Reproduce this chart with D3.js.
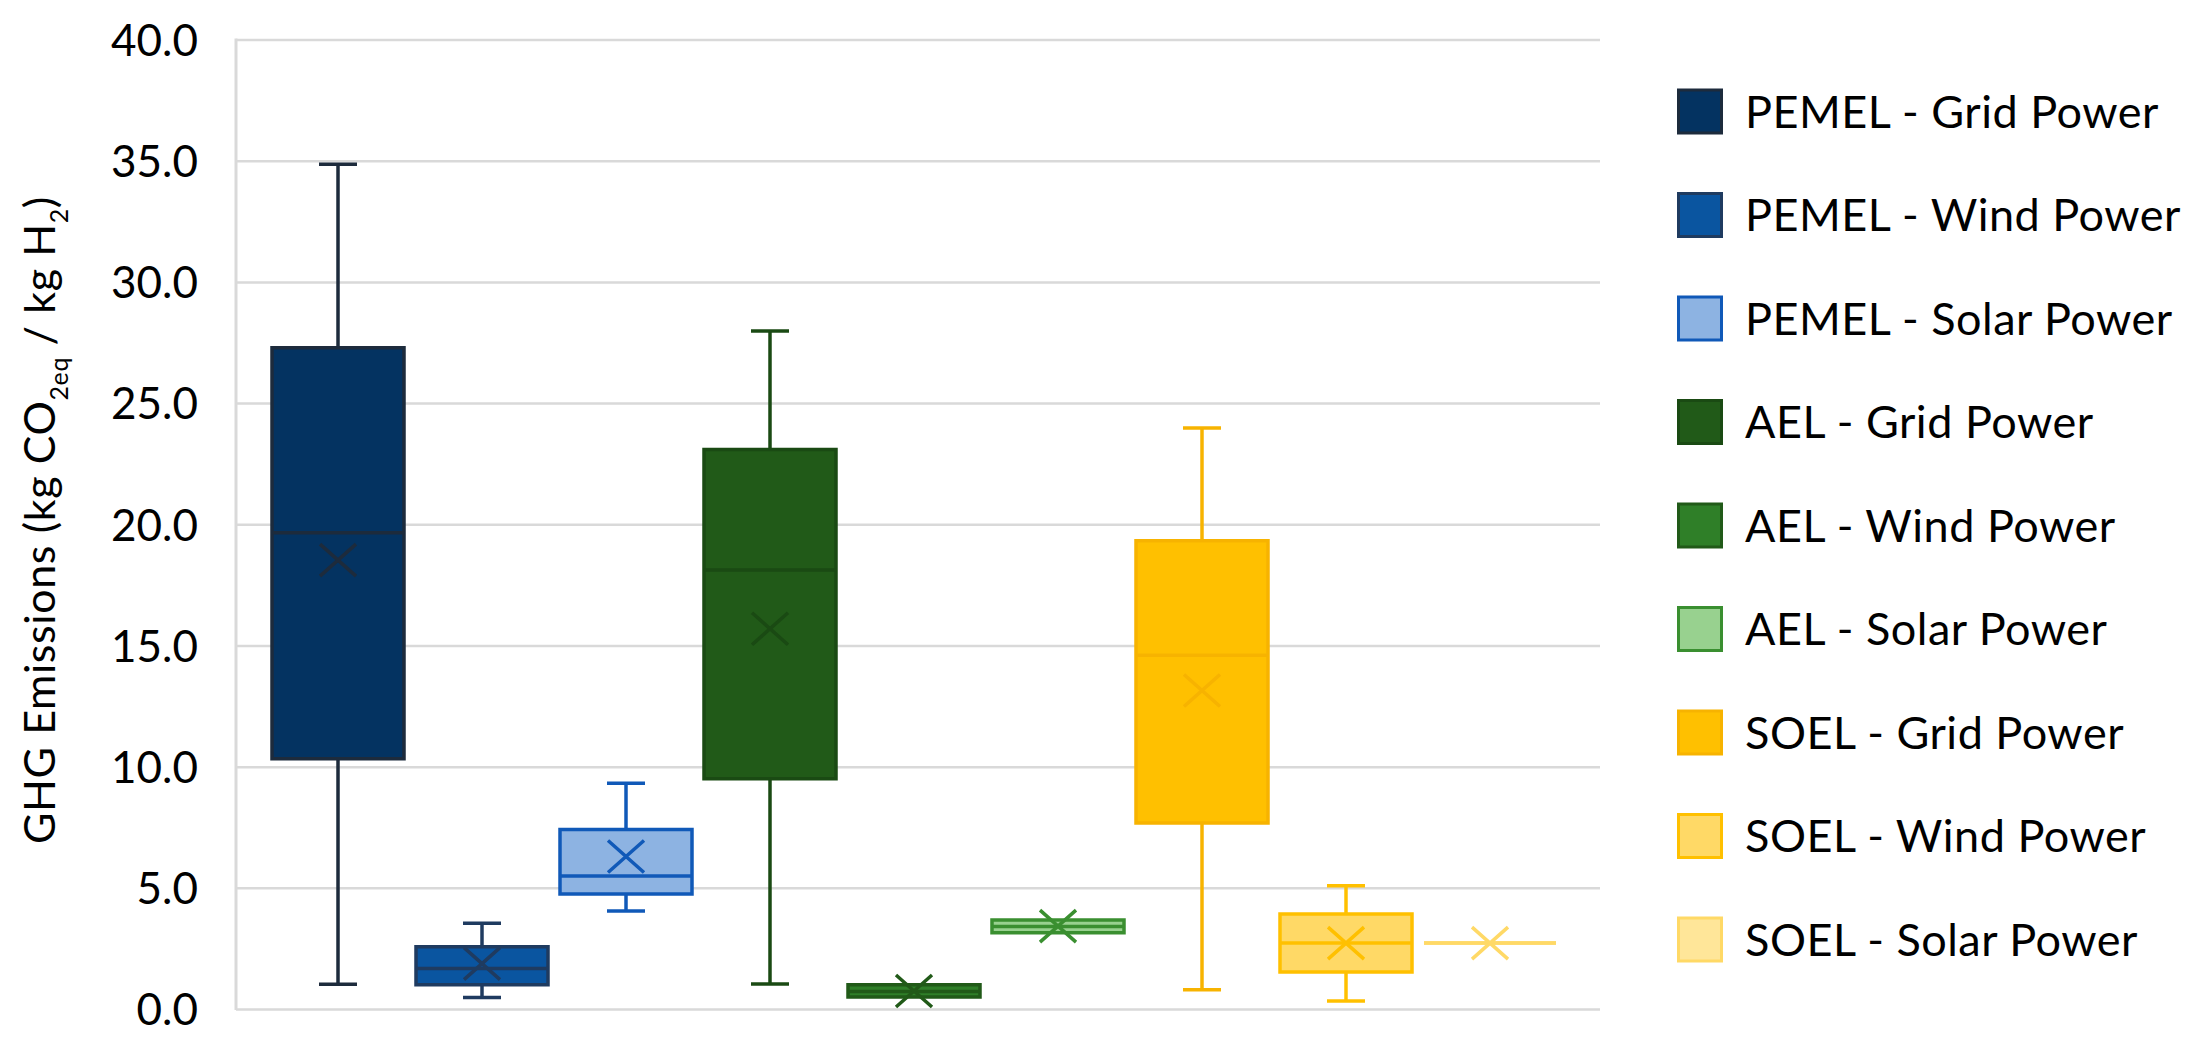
<!DOCTYPE html>
<html>
<head>
<meta charset="utf-8">
<script src="https://cdn.jsdelivr.net/npm/d3@7"></script>
<style>
  html, body { margin: 0; padding: 0; background: #ffffff; }
  svg { display: block; }
  text { font-family: Lato, "Open Sans", sans-serif; fill: #000; }
</style>
</head>
<body>
<svg id="chart" width="2187" height="1059"></svg>
<script>
// ---- data ----
const series = [
  "PEMEL - Grid Power", "PEMEL - Wind Power", "PEMEL - Solar Power",
  "AEL - Grid Power", "AEL - Wind Power", "AEL - Solar Power",
  "SOEL - Grid Power", "SOEL - Wind Power", "SOEL - Solar Power"
];
const minVals    = [1.02, 0.47, 4.04, 1.03, 0.50, 3.15, 0.79, 0.33, 2.72];
const q1Vals     = [10.33, 1.00, 4.74, 9.50, 0.50, 3.15, 7.67, 1.53, 2.72];
const medianVals = [19.65, 1.67, 5.49, 18.11, 0.72, 3.40, 14.60, 2.72, 2.72];
const q3Vals     = [27.28, 2.57, 7.41, 23.08, 1.00, 3.67, 19.32, 3.92, 2.72];
const maxVals    = [34.85, 3.54, 9.31, 27.97, 1.00, 3.67, 23.97, 5.09, 2.72];
const meanVals   = [18.52, 1.87, 6.29, 15.69, 0.74, 3.42, 13.14, 2.72, 2.72];
const yTicks = [0, 5, 10, 15, 20, 25, 30, 35, 40];

// ---- styles ----
const fillColors   = ["#043361", "#0A55A0", "#8DB3E2", "#215A18", "#2F7F28", "#98D18F", "#FFC000", "#FFD966", "#FFE699"];
const strokeColors = ["#1D2B3C", "#1F3B60", "#1059B8", "#1A4A13", "#215A18", "#3A8F30", "#F7B300", "#FFC000", "#FFD966"];

const svg = d3.select("#chart");
const plot = { left: 236, right: 1600, top: 39.5, bottom: 1009 };

const y = d3.scaleLinear().domain([0, 40]).range([plot.bottom, plot.top]);
const x = d3.scaleBand().domain(series).range([272, 1556]).paddingInner(0.0833).paddingOuter(0);

// gridlines
const grid = svg.append("g").attr("transform", `translate(${plot.left},0)`)
  .call(d3.axisLeft(y).tickValues(yTicks).tickSize(-(plot.right - plot.left)).tickFormat(""));
grid.select(".domain").remove();
grid.selectAll("line").attr("stroke", "#D9D9D9").attr("stroke-width", 2.5);

// left axis line
svg.append("line")
  .attr("x1", plot.left).attr("x2", plot.left)
  .attr("y1", plot.top - 1).attr("y2", plot.bottom + 1)
  .attr("stroke", "#D9D9D9").attr("stroke-width", 3);

// tick labels
const axis = svg.append("g").attr("transform", "translate(198,0)")
  .call(d3.axisLeft(y).tickValues(yTicks).tickSize(0).tickPadding(0).tickFormat(d3.format(".1f")));
axis.select(".domain").remove();
axis.selectAll("text")
  .style("font-family", "Lato, sans-serif")
  .style("font-size", "44px")
  .attr("fill", "#000")
  .attr("dy", "0.36em");

// y-axis title
const title = svg.append("text")
  .attr("transform", "translate(55,520) rotate(-90)")
  .attr("text-anchor", "middle")
  .style("font-size", "43px")
  .style("letter-spacing", "0.6px");
title.append("tspan").text("GHG Emissions (kg CO");
title.append("tspan").text("2eq").style("font-size", "25px").attr("dy", 13);
title.append("tspan").text(" / kg H").attr("dy", -13);
title.append("tspan").text("2").style("font-size", "25px").attr("dy", 13);
title.append("tspan").text(")").attr("dy", -13);

// boxes
const idx = d3.range(series.length);
const bw = x.bandwidth();
const g = svg.append("g");
const capW = 38;
const lw = 3.5;

idx.forEach(i => {
  const cx = x(series[i]) + bw / 2;
  const col = strokeColors[i];
  // whiskers
  if (maxVals[i] > q3Vals[i]) {
    g.append("line").attr("x1", cx).attr("x2", cx).attr("y1", y(maxVals[i])).attr("y2", y(q3Vals[i]))
      .attr("stroke", col).attr("stroke-width", lw);
    g.append("line").attr("x1", cx - capW / 2).attr("x2", cx + capW / 2).attr("y1", y(maxVals[i])).attr("y2", y(maxVals[i]))
      .attr("stroke", col).attr("stroke-width", lw);
  }
  if (minVals[i] < q1Vals[i]) {
    g.append("line").attr("x1", cx).attr("x2", cx).attr("y1", y(q1Vals[i])).attr("y2", y(minVals[i]))
      .attr("stroke", col).attr("stroke-width", lw);
    g.append("line").attr("x1", cx - capW / 2).attr("x2", cx + capW / 2).attr("y1", y(minVals[i])).attr("y2", y(minVals[i]))
      .attr("stroke", col).attr("stroke-width", lw);
  }
  // box
  const x0 = x(series[i]), x1 = x0 + bw;
  const yt = y(q3Vals[i]), yb = y(q1Vals[i]);
  g.append("path")
    .attr("d", `M${x0},${yt}H${x1}V${yb}H${x0}Z`)
    .attr("fill", fillColors[i])
    .attr("stroke", col).attr("stroke-width", lw);
  // median
  g.append("line").attr("x1", x0).attr("x2", x1).attr("y1", y(medianVals[i])).attr("y2", y(medianVals[i]))
    .attr("stroke", col).attr("stroke-width", lw);
  // mean marker (X)
  const my = y(meanVals[i]);
  const hx = 18, hy = 16;
  g.append("path")
    .attr("d", `M${cx - hx},${my - hy}L${cx + hx},${my + hy}M${cx - hx},${my + hy}L${cx + hx},${my - hy}`)
    .attr("stroke", col).attr("stroke-width", lw).attr("fill", "none");
});

// legend
const legend = svg.append("g");
idx.forEach(i => {
  const cy = 111.5 + i * 103.5;
  legend.append("rect")
    .attr("x", 1678.5).attr("y", cy - 21.5).attr("width", 43).attr("height", 43)
    .attr("fill", fillColors[i]).attr("stroke", strokeColors[i]).attr("stroke-width", 3);
  legend.append("text")
    .attr("x", 1745).attr("y", cy).attr("dy", "0.36em")
    .style("font-size", "45px")
    .style("letter-spacing", "0.5px")
    .text(series[i]);
});
</script>
</body>
</html>
